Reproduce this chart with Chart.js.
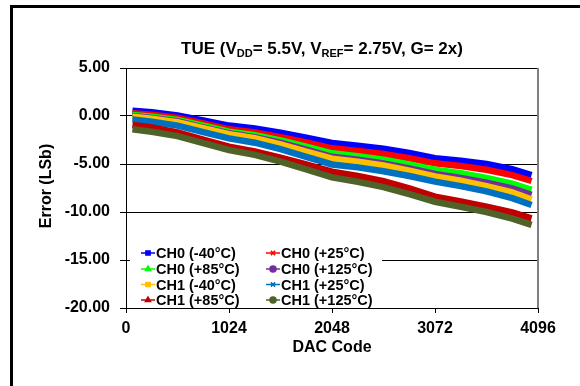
<!DOCTYPE html>
<html lang="en">
<head>
    <meta charset="UTF-8">
    <title>TUE chart</title>
    <script src="https://cdn.jsdelivr.net/npm/chart.js@4.4.1/dist/chart.umd.min.js"></script>
    <style>
        html, body { margin: 0; padding: 0; background: #fff; }
        #wrap { position: relative; width: 580px; height: 386px; }
    </style>
</head>
<body>
<div id="wrap"><canvas id="tueChart" width="580" height="386"></canvas></div>
<script>
// DAC codes where the error was read
var codes = [64, 256, 512, 768, 1024, 1280, 1536, 1792, 2048, 2304, 2560, 2816, 3072, 3328, 3584, 3840, 4032];

var ch0_m40  = [0.55, 0.40, 0.05, -0.45, -1.00, -1.30, -1.75, -2.25, -2.80, -3.10, -3.40, -3.85, -4.40, -4.65, -5.00, -5.55, -6.15];
var ch0_p25  = [0.28, 0.12, -0.20, -0.78, -1.39, -1.72, -2.20, -2.75, -3.37, -3.65, -3.95, -4.40, -4.93, -5.20, -5.60, -6.15, -6.77];
var ch0_p85  = [0.10, -0.08, -0.42, -1.02, -1.63, -2.00, -2.55, -3.20, -3.89, -4.20, -4.55, -5.05, -5.60, -5.95, -6.45, -7.05, -7.70];
var ch0_p125 = [0.00, -0.20, -0.55, -1.18, -1.80, -2.20, -2.78, -3.50, -4.25, -4.55, -4.95, -5.45, -6.04, -6.45, -6.95, -7.55, -8.20];
var ch1_m40  = [-0.07, -0.28, -0.65, -1.28, -1.90, -2.32, -2.95, -3.70, -4.45, -4.75, -5.15, -5.70, -6.30, -6.75, -7.30, -7.95, -8.70];
var ch1_p25  = [-0.35, -0.60, -1.00, -1.68, -2.33, -2.78, -3.45, -4.25, -5.05, -5.35, -5.75, -6.25, -6.84, -7.30, -7.85, -8.55, -9.27];
var ch1_p85  = [-0.94, -1.20, -1.70, -2.45, -3.20, -3.70, -4.35, -5.05, -5.80, -6.25, -6.80, -7.55, -8.40, -8.90, -9.45, -10.05, -10.66];
var ch1_p125 = [-1.39, -1.65, -2.10, -2.82, -3.54, -4.05, -4.75, -5.55, -6.40, -6.85, -7.40, -8.15, -8.93, -9.45, -10.00, -10.70, -11.35];

var seriesNames = ['CH0 (-40°C)', 'CH0 (+25°C)', 'CH0 (+85°C)', 'CH0 (+125°C)',
                   'CH1 (-40°C)', 'CH1 (+25°C)', 'CH1 (+85°C)', 'CH1 (+125°C)'];
var seriesValues = [ch0_m40, ch0_p25, ch0_p85, ch0_p125, ch1_m40, ch1_p25, ch1_p85, ch1_p125];
var seriesColors = ['#0000FF', '#FF0000', '#00FF00', '#7030A0', '#FFC000', '#0070C0', '#C00000', '#4F6228'];
var seriesMarkers = ['rect', 'crossRot', 'triangle', 'circle', 'rect', 'crossRot', 'triangle', 'circle'];

var xTicks = [0, 1024, 2048, 3072, 4096];
var yTicks = [5, 0, -5, -10, -15, -20];

var FONT = '"Liberation Sans", Arial, sans-serif';

var datasets = seriesValues.map(function (vals, i) {
    return {
        label: seriesNames[i],
        data: vals.map(function (v, j) { return { x: codes[j], y: v }; }),
        borderColor: seriesColors[i],
        backgroundColor: seriesColors[i],
        borderWidth: 6.5,
        pointRadius: 0,
        pointStyle: seriesMarkers[i],
        tension: 0,
        order: 8 - i
    };
});

// title with subscripts, axis titles, frame and the excel style legend
var decor = {
    id: 'decor',
    afterDraw: function (chart) {
        var ctx = chart.ctx;
        var area = chart.chartArea;
        ctx.save();

        // outer frame
        ctx.strokeStyle = '#000';
        ctx.lineWidth = 3;
        ctx.strokeRect(11.5, 6.5, 700, 500);

        // right edge of plot
        ctx.strokeStyle = '#808080';
        ctx.lineWidth = 2;
        ctx.beginPath();
        ctx.moveTo(area.right, area.top);
        ctx.lineTo(area.right, area.bottom);
        ctx.stroke();

        // title
        var parts = [['TUE (V', 0], ['DD', 1], ['= 5.5V, V', 0], ['REF', 1], ['= 2.75V, G= 2x)', 0]];
        var big = 'bold 17px ' + FONT, small = 'bold 11px ' + FONT;
        var total = 0;
        parts.forEach(function (p) { ctx.font = p[1] ? small : big; total += ctx.measureText(p[0]).width; });
        var x = 322 - total / 2, y = 54;
        ctx.fillStyle = '#000';
        ctx.textBaseline = 'alphabetic';
        ctx.textAlign = 'left';
        parts.forEach(function (p) {
            ctx.font = p[1] ? small : big;
            ctx.fillText(p[0], x, p[1] ? y + 3 : y);
            x += ctx.measureText(p[0]).width;
        });

        // axis titles
        ctx.font = 'bold 16px ' + FONT;
        ctx.textAlign = 'center';
        ctx.textBaseline = 'middle';
        ctx.fillText('DAC Code', 332, 348);
        ctx.save();
        ctx.translate(47, 186);
        ctx.rotate(-Math.PI / 2);
        ctx.fillText('Error (LSb)', 0, 0);
        ctx.restore();

        // legend box
        ctx.fillStyle = '#fff';
        ctx.fillRect(area.left + 4, 244, 382 - area.left - 4, 62);
        var rowY = [253, 269, 284.5, 300];
        var colX = [141, 266];
        ctx.font = 'bold 14.5px ' + FONT;
        ctx.textAlign = 'left';
        ctx.textBaseline = 'middle';
        for (var i = 0; i < 8; i++) {
            var lx = colX[i % 2], ly = rowY[Math.floor(i / 2)];
            ctx.strokeStyle = seriesColors[i];
            ctx.lineWidth = 1.5;
            ctx.beginPath();
            ctx.moveTo(lx, ly);
            ctx.lineTo(lx + 14, ly);
            ctx.stroke();
            ctx.fillStyle = seriesColors[i];
            Chart.helpers.drawPoint(ctx, {
                pointStyle: seriesMarkers[i], radius: 3, borderWidth: 1.5, rotation: 0
            }, lx + 7, ly);
            ctx.fillStyle = '#000';
            ctx.fillText(seriesNames[i], lx + 15, ly + 1);
        }
        ctx.restore();
    }
};

var ctx = document.getElementById('tueChart').getContext('2d');
var tueChart = new Chart(ctx, {
    type: 'line',
    data: { datasets: datasets },
    options: {
        responsive: false,
        animation: false,
        layout: { padding: { left: 0, right: 42, top: 68, bottom: 0 } },
        plugins: {
            legend: { display: false },
            title: { display: false },
            tooltip: { enabled: false }
        },
        scales: {
            x: {
                type: 'linear',
                min: 0,
                max: 4096,
                afterBuildTicks: function (axis) {
                    axis.ticks = xTicks.map(function (v) { return { value: v }; });
                },
                afterFit: function (axis) { axis.height = 78; },
                grid: { drawOnChartArea: false, drawTicks: true, tickLength: 5, color: '#000' },
                border: { color: '#000', width: 1 },
                ticks: {
                    color: '#000',
                    font: { family: FONT, size: 16, weight: 'bold' },
                    padding: 6,
                    maxRotation: 0,
                    autoSkip: false,
                    callback: function (v) { return String(v); }
                }
            },
            y: {
                min: -20,
                max: 5,
                afterBuildTicks: function (axis) {
                    axis.ticks = yTicks.map(function (v) { return { value: v }; });
                },
                afterFit: function (axis) { axis.width = 126; },
                grid: { color: '#000', lineWidth: 1, drawTicks: true, tickLength: 6 },
                border: { color: '#000', width: 1 },
                ticks: {
                    color: '#000',
                    font: { family: FONT, size: 16, weight: 'bold' },
                    padding: 10,
                    callback: function (v) { return Number(v).toFixed(2); }
                }
            }
        }
    },
    plugins: [decor]
});
</script>
</body>
</html>
